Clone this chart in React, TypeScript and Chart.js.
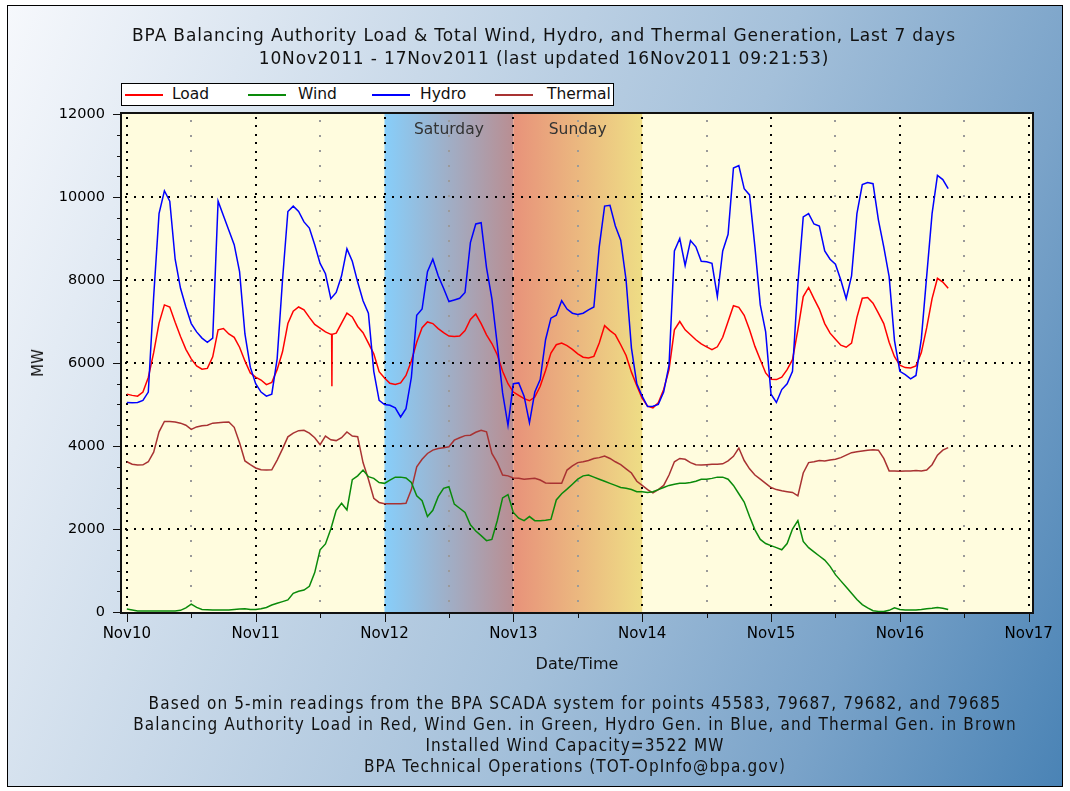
import React, { useEffect, useRef } from 'react';
import { Chart, registerables } from 'chart.js';

Chart.register(...registerables);

// ---------- data ----------
const dayLabels = ['Nov10', 'Nov11', 'Nov12', 'Nov13', 'Nov14', 'Nov15', 'Nov16', 'Nov17'];
const hours = Array.from({ length: 154 }, (_, i) => i); // hours since 10Nov2011 00:00

const loadMW = [
  5250, 5220, 5200, 5300, 5650, 6250, 6960, 7400, 7350, 6980, 6640, 6330, 6100, 5930, 5850, 5870, 6150, 6800, 6830, 6700, 6620, 6380, 6050, 5760,
  5660, 5590, 5480, 5530, 5840, 6270, 6950, 7250, 7350, 7280, 7100, 6930, 6840, 6750, 6690, 6720, 6960, 7200, 7110, 6880, 6730, 6480, 6220, 5790,
  5640, 5510, 5480, 5520, 5700, 6050, 6500, 6850, 6990, 6950, 6830, 6730, 6650, 6640, 6650, 6780, 7050, 7180, 6950, 6680, 6470, 6200, 5800, 5500,
  5300, 5220, 5140, 5090, 5180, 5440, 5820, 6240, 6440, 6480, 6420, 6330, 6220, 6140, 6120, 6160, 6480, 6900, 6780, 6680, 6440, 6180, 5780, 5450,
  5150, 4960, 4920, 5040, 5360, 5840, 6800, 7000, 6800, 6680, 6560, 6460, 6390, 6320, 6390, 6620, 7000, 7380, 7340, 7150, 6800, 6400, 6080, 5760,
  5610, 5600, 5660, 5840, 6080, 6800, 7600, 7820, 7550, 7300, 6950, 6720, 6570, 6430, 6380, 6480, 7100, 7560, 7580, 7440, 7200, 6950, 6500, 6150,
  5950, 5890, 5880, 5930, 6250, 6850, 7550, 8040, 7950, 7800,
];
const loadSpikeHours = [38.15, 38.2, 38.25];
const loadSpikeMW = [6690, 5440, 6690];

const windMW = [
  70, 50, 25, 25, 25, 25, 25, 25, 25, 25, 40, 100, 190, 110, 60, 55, 50, 50, 50, 50, 60, 70, 80, 60,
  60, 80, 110, 170, 210, 250, 290, 450, 500, 530, 620, 950, 1500, 1640, 2000, 2450, 2620, 2460, 3190, 3280, 3420, 3260, 3220, 3120,
  3100, 3180, 3250, 3250, 3230, 3120, 2800, 2680, 2300, 2450, 2780, 2980, 3020, 2600, 2500, 2400, 2100, 1950, 1840, 1720, 1750, 2200, 2750, 2830,
  2400, 2260, 2200, 2300, 2200, 2200, 2210, 2230, 2700, 2850, 2960, 3080, 3200, 3280, 3300, 3250, 3200, 3150, 3100, 3050, 3000, 2980, 2950, 2900,
  2900, 2880, 2900, 2950, 3000, 3050, 3080, 3100, 3100, 3120, 3150, 3200, 3200, 3220, 3250, 3250, 3200, 3050, 2850, 2650, 2300, 1980, 1750, 1650,
  1600, 1550, 1500, 1650, 2000, 2200, 1700, 1550, 1450, 1350, 1250, 1100, 900, 750, 600, 450, 300, 180, 100, 30, 15, 10, 40, 100,
  60, 50, 50, 50, 60, 80, 90, 110, 90, 60,
];

const hydroMW = [
  5050, 5040, 5050, 5100, 5300, 7600, 9600, 10150, 9900, 8500, 7800, 7350, 6950, 6750, 6600, 6500, 6600, 9900, 9550, 9200, 8850, 8200, 6700, 5900,
  5500, 5300, 5200, 5250, 6100, 8000, 9650, 9780, 9650, 9400, 9250, 8850, 8400, 8150, 7550, 7700, 8100, 8750, 8450, 7950, 7500, 7200, 5800, 5100,
  5000, 4980, 4920, 4700, 4900, 5650, 7150, 7300, 8200, 8500, 8100, 7800, 7480, 7520, 7560, 7700, 8900, 9350, 9380, 8300, 7550, 6450, 5280, 4500,
  5500, 5520, 5200, 4560, 5300, 5600, 6560, 7080, 7150, 7500, 7300, 7200, 7170, 7200, 7280, 7350, 8800, 9780, 9800, 9300, 8960, 8000, 6360, 5500,
  5200, 4950, 4960, 5000, 5300, 5950, 8700, 9000, 8350, 8950, 8800, 8450, 8440, 8400, 7600, 8700, 9100, 10700, 10760, 10200, 10050, 8800, 7400, 6750,
  5250, 5050, 5360, 5500, 5800, 7900, 9520, 9600, 9350, 9300, 8700, 8500, 8380, 8000, 7550, 8100, 9600, 10300, 10350, 10320, 9450, 8800, 8080, 6540,
  5800, 5720, 5620, 5700, 6580, 8100, 9600, 10520, 10420, 10200,
];

const thermalMW = [
  3620, 3560, 3540, 3545, 3620, 3850, 4340, 4590, 4590, 4580, 4550, 4500, 4400, 4460, 4490, 4500, 4550, 4560, 4570, 4580, 4450, 4080, 3640, 3550,
  3470, 3430, 3420, 3425, 3660, 3930, 4220, 4310, 4370, 4380, 4310, 4200, 4030, 4240, 4150, 4130, 4200, 4340, 4240, 4224, 3600, 3200, 2740, 2640,
  2610, 2610, 2608, 2610, 2620, 2950, 3500, 3680, 3820, 3900, 3940, 3960, 3980, 4140, 4200, 4250, 4260, 4330, 4380, 4340, 3820, 3600, 3300, 3280,
  3230, 3220, 3200, 3210, 3220, 3180, 3110, 3100, 3100, 3100, 3420, 3520, 3600, 3620, 3650, 3700, 3720, 3760, 3700, 3620, 3550, 3450, 3350, 3150,
  3050, 2950, 2870, 2950, 3050, 3300, 3620, 3700, 3680, 3600, 3550, 3540, 3550, 3560, 3560, 3570, 3640, 3750, 3950, 3650, 3450, 3300, 3200, 3100,
  3000, 2950, 2920, 2900, 2880, 2800, 3350, 3600, 3620, 3650, 3640, 3660, 3680, 3720, 3780, 3840, 3860, 3880, 3900, 3910, 3900, 3700, 3400, 3400,
  3390, 3400, 3400, 3410, 3400, 3420, 3550, 3780, 3900, 3960,
];

const seriesNames = ['Load', 'Wind', 'Hydro', 'Thermal'];
const weekendLabels = ['Saturday', 'Sunday'];
const weekendStartHours = [48, 72];
const weekendLengthHours = 24;
const yMajorTicks = [0, 2000, 4000, 6000, 8000, 10000, 12000];

const titleLines = [
  'BPA Balancing Authority Load & Total Wind, Hydro, and Thermal Generation, Last 7 days',
  '10Nov2011 - 17Nov2011 (last updated 16Nov2011 09:21:53)',
];
const footerLines = [
  'Based on 5-min readings from the BPA SCADA system for points 45583, 79687, 79682, and 79685',
  'Balancing Authority Load in Red, Wind Gen. in Green, Hydro Gen. in Blue, and Thermal Gen. in Brown',
  'Installed Wind Capacity=3522 MW',
  'BPA Technical Operations (TOT-OpInfo@bpa.gov)',
];

// ---------- styles ----------
const FONT = '"DejaVu Sans", Verdana, sans-serif';
const seriesColors = ['#ff0000', '#0a8a0a', '#0000ff', '#a83232'];
const weekendGradients = [
  ['#87cefa', '#b98e92'],
  ['#e8927a', '#eedd85'],
];
const PLOT_BG = '#fffcde';

const toPoints = (xs: number[], ys: number[]) => xs.map((x, i) => ({ x, y: ys[i] }));

const loadPoints = [...toPoints(hours, loadMW), ...toPoints(loadSpikeHours, loadSpikeMW)].sort((a, b) => a.x - b.x);

const backdropPlugin = {
  id: 'backdrop',
  beforeDatasetsDraw(chart: any) {
    const { ctx, chartArea: a, scales } = chart;
    const x = scales.x;
    const y = scales.y;
    ctx.save();
    ctx.fillStyle = PLOT_BG;
    ctx.fillRect(a.left, a.top, a.right - a.left, a.bottom - a.top);

    weekendStartHours.forEach((h, i) => {
      const x0 = x.getPixelForValue(h);
      const x1 = x.getPixelForValue(h + weekendLengthHours);
      const g = ctx.createLinearGradient(x0, 0, x1, 0);
      g.addColorStop(0, weekendGradients[i][0]);
      g.addColorStop(1, weekendGradients[i][1]);
      ctx.fillStyle = g;
      ctx.fillRect(x0, a.top, x1 - x0, a.bottom - a.top);
      ctx.fillStyle = '#333';
      ctx.font = `15.5px ${FONT}`;
      ctx.textAlign = 'center';
      ctx.textBaseline = 'middle';
      ctx.fillText(weekendLabels[i], (x0 + x1) / 2, a.top + 16);
    });

    // dotted grid
    ctx.fillStyle = '#000';
    for (let d = 0; d < dayLabels.length; d++) {
      const px = Math.round(x.getPixelForValue(d * 24));
      for (let py = a.top + 3; py < a.bottom; py += 8.4) ctx.fillRect(px - 1, Math.round(py), 2, 2);
    }
    for (const v of yMajorTicks) {
      if (v <= 0 || v >= 12000) continue;
      const py = Math.round(y.getPixelForValue(v));
      for (let px = a.left + 3; px < a.right; px += 8.6) ctx.fillRect(Math.round(px), py - 1, 2, 2);
    }
    ctx.fillStyle = '#9a9a9a';
    for (let d = 0; d < dayLabels.length - 1; d++) {
      const px = Math.round(x.getPixelForValue(d * 24 + 12));
      for (let py = a.top + 6; py < a.bottom; py += 15) ctx.fillRect(px - 1, Math.round(py), 2, 2);
    }
    ctx.restore();
  },
  afterDatasetsDraw(chart: any) {
    const { ctx, chartArea: a, scales } = chart;
    const x = scales.x;
    const y = scales.y;
    ctx.save();
    ctx.strokeStyle = '#111';
    ctx.lineWidth = 2;
    ctx.strokeRect(a.left - 1, a.top - 1, a.right - a.left + 1, a.bottom - a.top + 2);
    ctx.lineWidth = 1;
    ctx.beginPath();
    for (let h = 0; h <= 168; h += 12) {
      const px = Math.round(x.getPixelForValue(h)) + 0.5;
      ctx.moveTo(px, a.bottom);
      ctx.lineTo(px, a.bottom + (h % 24 === 0 ? 10 : 6));
    }
    for (let v = 0; v <= 12000; v += 500) {
      const py = Math.round(y.getPixelForValue(v)) + 0.5;
      ctx.moveTo(a.left - (v % 2000 === 0 ? 9 : 5), py);
      ctx.lineTo(a.left, py);
    }
    ctx.stroke();
    ctx.restore();
  },
};

export default function App() {
  const ref = useRef<HTMLCanvasElement | null>(null);

  useEffect(() => {
    if (!ref.current) return;
    const datasets = [
      { label: seriesNames[1], data: toPoints(hours, windMW), borderColor: seriesColors[1] },
      { label: seriesNames[3], data: toPoints(hours, thermalMW), borderColor: seriesColors[3] },
      { label: seriesNames[2], data: toPoints(hours, hydroMW), borderColor: seriesColors[2] },
      { label: seriesNames[0], data: loadPoints, borderColor: seriesColors[0] },
    ].map((d) => ({ ...d, borderWidth: 1.5, pointRadius: 0, tension: 0, fill: false }));

    const chart = new Chart(ref.current, {
      type: 'line',
      data: { datasets },
      options: {
        animation: false,
        responsive: false,
        events: [],
        layout: { padding: { left: 0, top: 114, right: 37, bottom: 109 } },
        plugins: { legend: { display: false }, title: { display: false }, tooltip: { enabled: false } },
        scales: {
          x: {
            type: 'linear',
            min: -0.9,
            max: 168.8,
            afterFit: (s: any) => { s.height = 70; },
            grid: { drawOnChartArea: false, drawTicks: true, tickLength: 10, color: 'rgba(0,0,0,0)' },
            border: { display: false },
            ticks: {
              stepSize: 12,
              includeBounds: false,
              autoSkip: false,
              maxRotation: 0,
              padding: 3,
              color: '#000',
              font: { family: FONT, size: 15 },
              callback: (v: any) => (Number(v) % 24 === 0 ? dayLabels[Number(v) / 24] : ''),
            },
          },
          y: {
            min: 0,
            max: 12000,
            afterFit: (s: any) => { s.width = 122; },
            grid: { drawOnChartArea: false, drawTicks: true, tickLength: 9, color: 'rgba(0,0,0,0)' },
            border: { display: false },
            ticks: {
              stepSize: 500,
              autoSkip: false,
              padding: 8,
              color: '#000',
              font: { family: FONT, size: 14.5 },
              callback: (v: any) => (yMajorTicks.includes(Number(v)) ? String(v) : ''),
            },
          },
        },
      },
      plugins: [backdropPlugin],
    } as any);
    return () => chart.destroy();
  }, []);

  const center = (cx: number, cy: number): React.CSSProperties => ({
    position: 'absolute', left: cx, top: cy, transform: 'translate(-50%, -50%)', whiteSpace: 'nowrap',
  });

  const legendLineX = [125, 248, 372, 495];
  const legendTextX = [172, 298, 420, 547];

  return (
    <div style={{ position: 'absolute', left: 0, top: 0, width: 1070, height: 791, background: '#fff', overflow: 'hidden' }}>
      <div style={{
        position: 'absolute', left: 7, top: 5, width: 1056, height: 782, boxSizing: 'border-box', border: '1px solid #000',
        background: 'linear-gradient(112deg, #f6f8fc 0%, #c9d9e9 32%, #a4c0da 58%, #7aa3c9 80%, #4a83b5 100%)',
      }} />
      <canvas ref={ref} width={1070} height={791} style={{ position: 'absolute', left: 0, top: 0, width: 1070, height: 791 }} />
      <div style={{ fontFamily: FONT, fontSize: 17, letterSpacing: '0.85px', color: '#111' }}>
        <div style={center(544, 35)}>{titleLines[0]}</div>
        <div style={center(544, 58)}>{titleLines[1]}</div>
      </div>
      <div style={{ position: 'absolute', left: 121, top: 83, width: 493, height: 23, boxSizing: 'border-box', border: '1px solid #000', background: '#fff', fontFamily: FONT, fontSize: 15.5, color: '#111' }}>
        {seriesNames.map((n, i) => (
          <React.Fragment key={n}>
            <div style={{ position: 'absolute', left: legendLineX[i] - 122, top: 10, width: 38, height: 1.5, background: seriesColors[i] }} />
            <div style={{ position: 'absolute', left: legendTextX[i] - 122, top: 1, lineHeight: '19px' }}>{n}</div>
          </React.Fragment>
        ))}
      </div>
      <div style={{ ...center(38, 363), transform: 'translate(-50%, -50%) rotate(-90deg)', fontFamily: FONT, fontSize: 15, color: '#111' }}>MW</div>
      <div style={{ ...center(577, 663), fontFamily: FONT, fontSize: 16, color: '#111' }}>Date/Time</div>
      <div style={{ fontFamily: '"DejaVu Sans Condensed", "DejaVu Sans", sans-serif', fontStretch: 'condensed', fontSize: 17, letterSpacing: '1.1px', color: '#111' }}>
        {footerLines.map((t, i) => (
          <div key={i} style={center(575, 703 + i * 21)}>{t}</div>
        ))}
      </div>
    </div>
  );
}
